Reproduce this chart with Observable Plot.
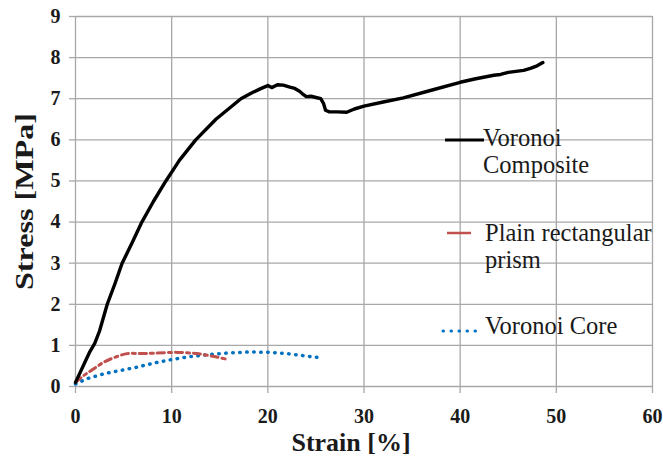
<!DOCTYPE html>
<html>
<head>
<meta charset="utf-8">
<script src="https://cdn.jsdelivr.net/npm/d3@7"></script>
<script src="https://cdn.jsdelivr.net/npm/@observablehq/plot@0.6"></script>
<style>
  html, body { margin: 0; padding: 0; background: #fff; }
  #wrap { position: relative; width: 663px; height: 459px; font-family: "Liberation Serif", "Times New Roman", serif; }
  .leg { position: absolute; font-size: 24.5px; color: #1a1a1a; line-height: 26.5px; white-space: nowrap; }
  .sw { position: absolute; }
</style>
</head>
<body>
<div id="wrap"></div>
<script>
// ---- data ----
const xTicks = [0, 10, 20, 30, 40, 50, 60];
const yTicks = [0, 1, 2, 3, 4, 5, 6, 7, 8, 9];
const seriesNames = ["Voronoi Composite", "Plain rectangular prism", "Voronoi Core"];
const seriesColors = ["#000000", "#c0504d", "#0070c0"];
const xTitle = "Strain [%]";
const yTitle = "Stress [MPa]";

const compositeStrain = [0, 0.5, 1, 1.5, 2, 2.5, 3.3, 4.1, 4.85, 5.9, 6.9, 8.1, 9.4, 10.8, 12.5, 14.6, 17.2, 18.4, 19.2, 20, 20.4, 21, 21.6, 22.3, 22.8, 23.3, 23.6, 24.0, 24.5, 25.0, 25.5, 25.8, 26.0, 26.4, 27.2, 28.2, 29, 30, 32, 34.1, 36.9, 40, 41.5, 43.5, 44.2, 45, 46.6, 47.3, 48, 48.6];
const compositeStress = [0.1, 0.35, 0.6, 0.85, 1.05, 1.35, 2.0, 2.5, 3.0, 3.5, 4.0, 4.5, 5.0, 5.5, 6.0, 6.5, 7.0, 7.15, 7.24, 7.32, 7.27, 7.34, 7.33, 7.28, 7.25, 7.18, 7.12, 7.05, 7.06, 7.03, 7.0, 6.88, 6.72, 6.68, 6.68, 6.67, 6.75, 6.82, 6.92, 7.02, 7.2, 7.4, 7.48, 7.57, 7.59, 7.64, 7.69, 7.74, 7.8, 7.88];

const prismStrain = [0, 0.87, 1.9, 2.94, 3.98, 5.37, 6.8, 8.14, 10.57, 12.65, 14.4, 15.6];
const prismStress = [0.1, 0.27, 0.43, 0.59, 0.70, 0.80, 0.80, 0.81, 0.83, 0.80, 0.73, 0.67];

const coreStrain = [0, 1.2, 2.94, 4.68, 6.4, 8.14, 9.88, 11.95, 14.0, 16.1, 18.2, 20.3, 22.0, 23.7, 25.1];
const coreStress = [0.06, 0.19, 0.31, 0.39, 0.47, 0.57, 0.65, 0.73, 0.78, 0.82, 0.84, 0.83, 0.80, 0.75, 0.71];

const toRows = (xs, ys) => xs.map((x, i) => ({strain: x, stress: ys[i]}));
const composite = toRows(compositeStrain, compositeStress);
const prism = toRows(prismStrain, prismStress);
const core = toRows(coreStrain, coreStress);

const gridColor = "#a8a8a8";
const font = "Liberation Serif";

const chart = Plot.plot({
  width: 663,
  height: 459,
  marginLeft: 75,
  marginRight: 11,
  marginTop: 16,
  marginBottom: 73,
  style: {fontFamily: font, background: "#fff", color: "#1a1a1a"},
  x: {domain: [0, 60]},
  y: {domain: [0, 9]},
  marks: [
    Plot.gridX(xTicks, {stroke: gridColor, strokeOpacity: 1, strokeWidth: 1.3}),
    Plot.gridY(yTicks, {stroke: gridColor, strokeOpacity: 1, strokeWidth: 1.3}),
    Plot.axisX(xTicks, {tickSize: 7, tickPadding: 15, stroke: gridColor, strokeWidth: 1.3, fontFamily: font, fontSize: 20, fontWeight: "bold", label: null}),
    Plot.axisY(yTicks, {tickSize: 6, tickPadding: 9, stroke: gridColor, strokeWidth: 1.3, fontFamily: font, fontSize: 20, fontWeight: "bold", label: null}),
    Plot.line(core, {x: "strain", y: "stress", stroke: seriesColors[2], strokeWidth: 3.5, strokeDasharray: "0.5 6.5", strokeLinecap: "round"}),
    Plot.line(prism, {x: "strain", y: "stress", stroke: seriesColors[1], strokeWidth: 3, strokeDasharray: "7 4 3 4", curve: "catmull-rom"}),
    Plot.line(composite, {x: "strain", y: "stress", stroke: seriesColors[0], strokeWidth: 3.4, strokeLinejoin: "round"}),
    Plot.text([xTitle], {frameAnchor: "bottom", dy: 56, dx: -13, textAnchor: "middle", lineAnchor: "middle", fontFamily: font, fontSize: 26, fontWeight: "bold", fill: "#1a1a1a"}),
    Plot.text([yTitle], {frameAnchor: "left", dx: -51, rotate: -90, textAnchor: "middle", lineAnchor: "middle", fontFamily: font, fontSize: 26, fontWeight: "bold", fill: "#1a1a1a"})
  ]
});

const wrap = document.getElementById("wrap");
wrap.appendChild(chart);

// stretch the vertical title to the reference's length
d3.select(chart).selectAll("text").filter(function () { return this.textContent === yTitle; })
  .attr("textLength", 177).attr("lengthAdjust", "spacingAndGlyphs");

// legend (inside plot area)
function addSwatch(left, top, w, color, dash, width, cap) {
  const s = document.createElementNS("http://www.w3.org/2000/svg", "svg");
  s.setAttribute("class", "sw");
  s.setAttribute("width", w);
  s.setAttribute("height", 8);
  s.style.left = left + "px";
  s.style.top = (top - 4) + "px";
  const l = document.createElementNS("http://www.w3.org/2000/svg", "line");
  l.setAttribute("x1", cap === "round" ? 2 : 0);
  l.setAttribute("x2", w);
  l.setAttribute("y1", 4);
  l.setAttribute("y2", 4);
  l.setAttribute("stroke", color);
  l.setAttribute("stroke-width", width);
  if (dash) l.setAttribute("stroke-dasharray", dash);
  if (cap) l.setAttribute("stroke-linecap", cap);
  s.appendChild(l);
  wrap.appendChild(s);
}
function addLabel(left, top, html) {
  const d = document.createElement("div");
  d.className = "leg";
  d.style.left = left + "px";
  d.style.top = top + "px";
  d.innerHTML = html;
  wrap.appendChild(d);
}
addSwatch(445, 140, 39, seriesColors[0], null, 3);
addLabel(483, 125, "Voronoi<br>Composite");
addSwatch(447, 233, 24, seriesColors[1], null, 2.5);
addLabel(485, 220, "Plain rectangular<br>prism");
addSwatch(441, 331, 40, seriesColors[2], "0.5 7.5", 3, "round");
addLabel(485, 313, "Voronoi Core");
</script>
</body>
</html>
